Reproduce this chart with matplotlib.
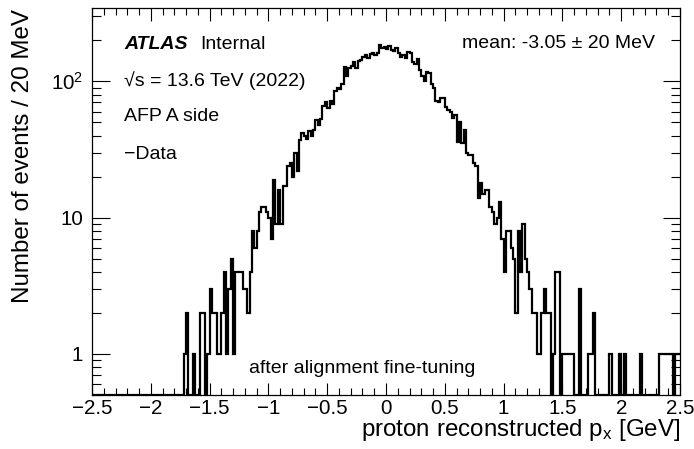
import numpy as np
import matplotlib
matplotlib.use("Agg")
import matplotlib.pyplot as plt
from matplotlib.ticker import FixedLocator, FixedFormatter, LogLocator, NullFormatter, MultipleLocator

# ---------------- data (events per 20 MeV bin, from -2.50 to 2.50 GeV) ----------------
x_min, x_max = -2.5, 2.5
counts = [
    # -2.50 .. -1.74 (empty)
    0, 0, 0, 0, 0, 0, 0, 0, 0, 0,
    0, 0, 0, 0, 0, 0, 0, 0, 0, 0,
    0, 0, 0, 0, 0, 0, 0, 0, 0, 0,
    0, 0, 0, 0, 0, 0, 0, 0, 0,
    # -1.72 ..
    1, 2, 0, 0, 1, 0, 0, 2, 2, 0,
    1, 3, 2, 2, 1, 1, 2, 4, 1, 3,
    5, 1, 4, 4, 4, 3, 3, 2, 4, 8,
    6, 8, 11, 12, 12, 11, 10, 7, 19, 9,
    16, 9, 17, 17, 24, 25, 20, 30, 22, 37,
    42, 40, 38, 43, 40, 44, 52, 48, 53, 66,
    70, 64, 72, 68, 85, 90, 88, 95, 128, 110,
    125, 130, 138, 125, 140, 143, 150, 155, 148, 158,
    160, 155, 162, 185, 175, 178, 172, 182, 170, 168,
    175, 160, 150, 155, 148, 165, 160, 138, 133, 145,
    122, 110, 100, 118, 115, 95, 90, 72, 70, 76,
    75, 65, 62, 60, 54, 57, 36, 50, 35, 44,
    30, 29, 29, 25, 24, 14, 18, 15, 16, 16,
    12, 11, 9, 10, 13, 7, 4, 8, 8, 6,
    5, 2, 8, 4, 9, 5, 4, 3, 2, 2,
    1, 1, 2, 3, 2, 2, 0, 1, 4, 4,
    0, 1, 1, 1, 1, 1, 0, 0, 3, 0,
    0, 0, 1, 1, 2, 0, 0, 0, 0, 0,
    0, 1, 0, 0, 0, 1, 0, 1, 0, 0,
    0, 0, 0, 0, 1, 0, 0, 0, 0, 0,
    0, 0, 1, 1, 1, 1, 1, 1, 0, 1,
    1,
]
x_tick_values = [-2.5, -2, -1.5, -1, -0.5, 0, 0.5, 1, 1.5, 2, 2.5]
x_tick_labels = ["\u22122.5", "\u22122", "\u22121.5", "\u22121", "\u22120.5", "0",
                 "0.5", "1", "1.5", "2", "2.5"]
y_tick_values = [1, 10, 100]
y_tick_labels = ["1", "10", r"$\mathregular{10^{2}}$"]
y_lo, y_hi = 0.5, 345

# ---------------- style ----------------
plt.rcParams['font.family'] = ['Liberation Sans', 'DejaVu Sans']
plt.rcParams['mathtext.fontset'] = 'custom'
plt.rcParams['mathtext.rm'] = 'Liberation Sans'
plt.rcParams['mathtext.it'] = 'Liberation Sans:italic'
plt.rcParams['mathtext.bf'] = 'Liberation Sans:bold'
plt.rcParams['axes.unicode_minus'] = True

W, H = 694, 449
fig = plt.figure(figsize=(W / 100, H / 100), dpi=100)
ax = fig.add_axes([92 / W, 54 / H, 588 / W, 387 / H])

edges = np.linspace(x_min, x_max, len(counts) + 1)
c = np.array(counts, dtype=float)
vals = np.where(c > 0, c, y_lo)
ax.stairs(vals, edges, color='black', lw=1.6, baseline=None)

ax.set_yscale('log')
ax.set_xlim(x_min, x_max)
ax.set_ylim(y_lo, y_hi)

for s in ax.spines.values():
    s.set_linewidth(0.9)

ax.xaxis.set_major_locator(FixedLocator(x_tick_values))
ax.xaxis.set_major_formatter(FixedFormatter(x_tick_labels))
ax.xaxis.set_minor_locator(MultipleLocator(0.1))
ax.yaxis.set_major_locator(FixedLocator(y_tick_values))
ax.yaxis.set_major_formatter(FixedFormatter(y_tick_labels))
ax.yaxis.set_minor_locator(LogLocator(base=10, subs=np.arange(2, 10)))
ax.yaxis.set_minor_formatter(NullFormatter())

ax.tick_params(axis='both', which='both', direction='in', top=True, right=True,
               width=0.8, colors='black')
ax.tick_params(axis='x', which='major', length=9, pad=3, labelsize=14.8)
ax.tick_params(axis='x', which='minor', length=4.7)
ax.tick_params(axis='y', which='major', length=12.6, pad=6.5, labelsize=14.8)
ax.tick_params(axis='y', which='minor', length=6.5)

# ---------------- labels ----------------
def fx(px):
    return px / W

def fy(py):
    return 1 - py / H

fig.text(fx(23), fy(9), "Number of events / 20 MeV", rotation=90,
         ha='center', va='top', fontsize=17.4)
fig.text(fx(680), fy(436), r"proton reconstructed p$_{\mathregular{x}}$ [GeV]",
         ha='right', va='baseline', fontsize=17.4)

fs = 14
fig.text(fx(124), fy(49), "ATLAS", fontstyle='italic', fontweight='bold',
         fontsize=fs, va='baseline')
fig.text(fx(200), fy(49), "Internal", fontsize=fs, va='baseline')
fig.text(fx(124), fy(86), "\u221as = 13.6 TeV (2022)",
         fontsize=fs, va='baseline')
fig.text(fx(124), fy(121), "AFP A side", fontsize=fs, va='baseline')
fig.text(fx(124), fy(159), "\u2212Data", fontsize=fs, va='baseline')
fig.text(fx(655), fy(48), "mean: -3.05 \u00b1 20 MeV", fontsize=fs,
         ha='right', va='baseline')
fig.text(fx(249), fy(373), "after alignment fine-tuning", fontsize=fs,
         va='baseline')

fig.savefig("out.png", dpi=100)
